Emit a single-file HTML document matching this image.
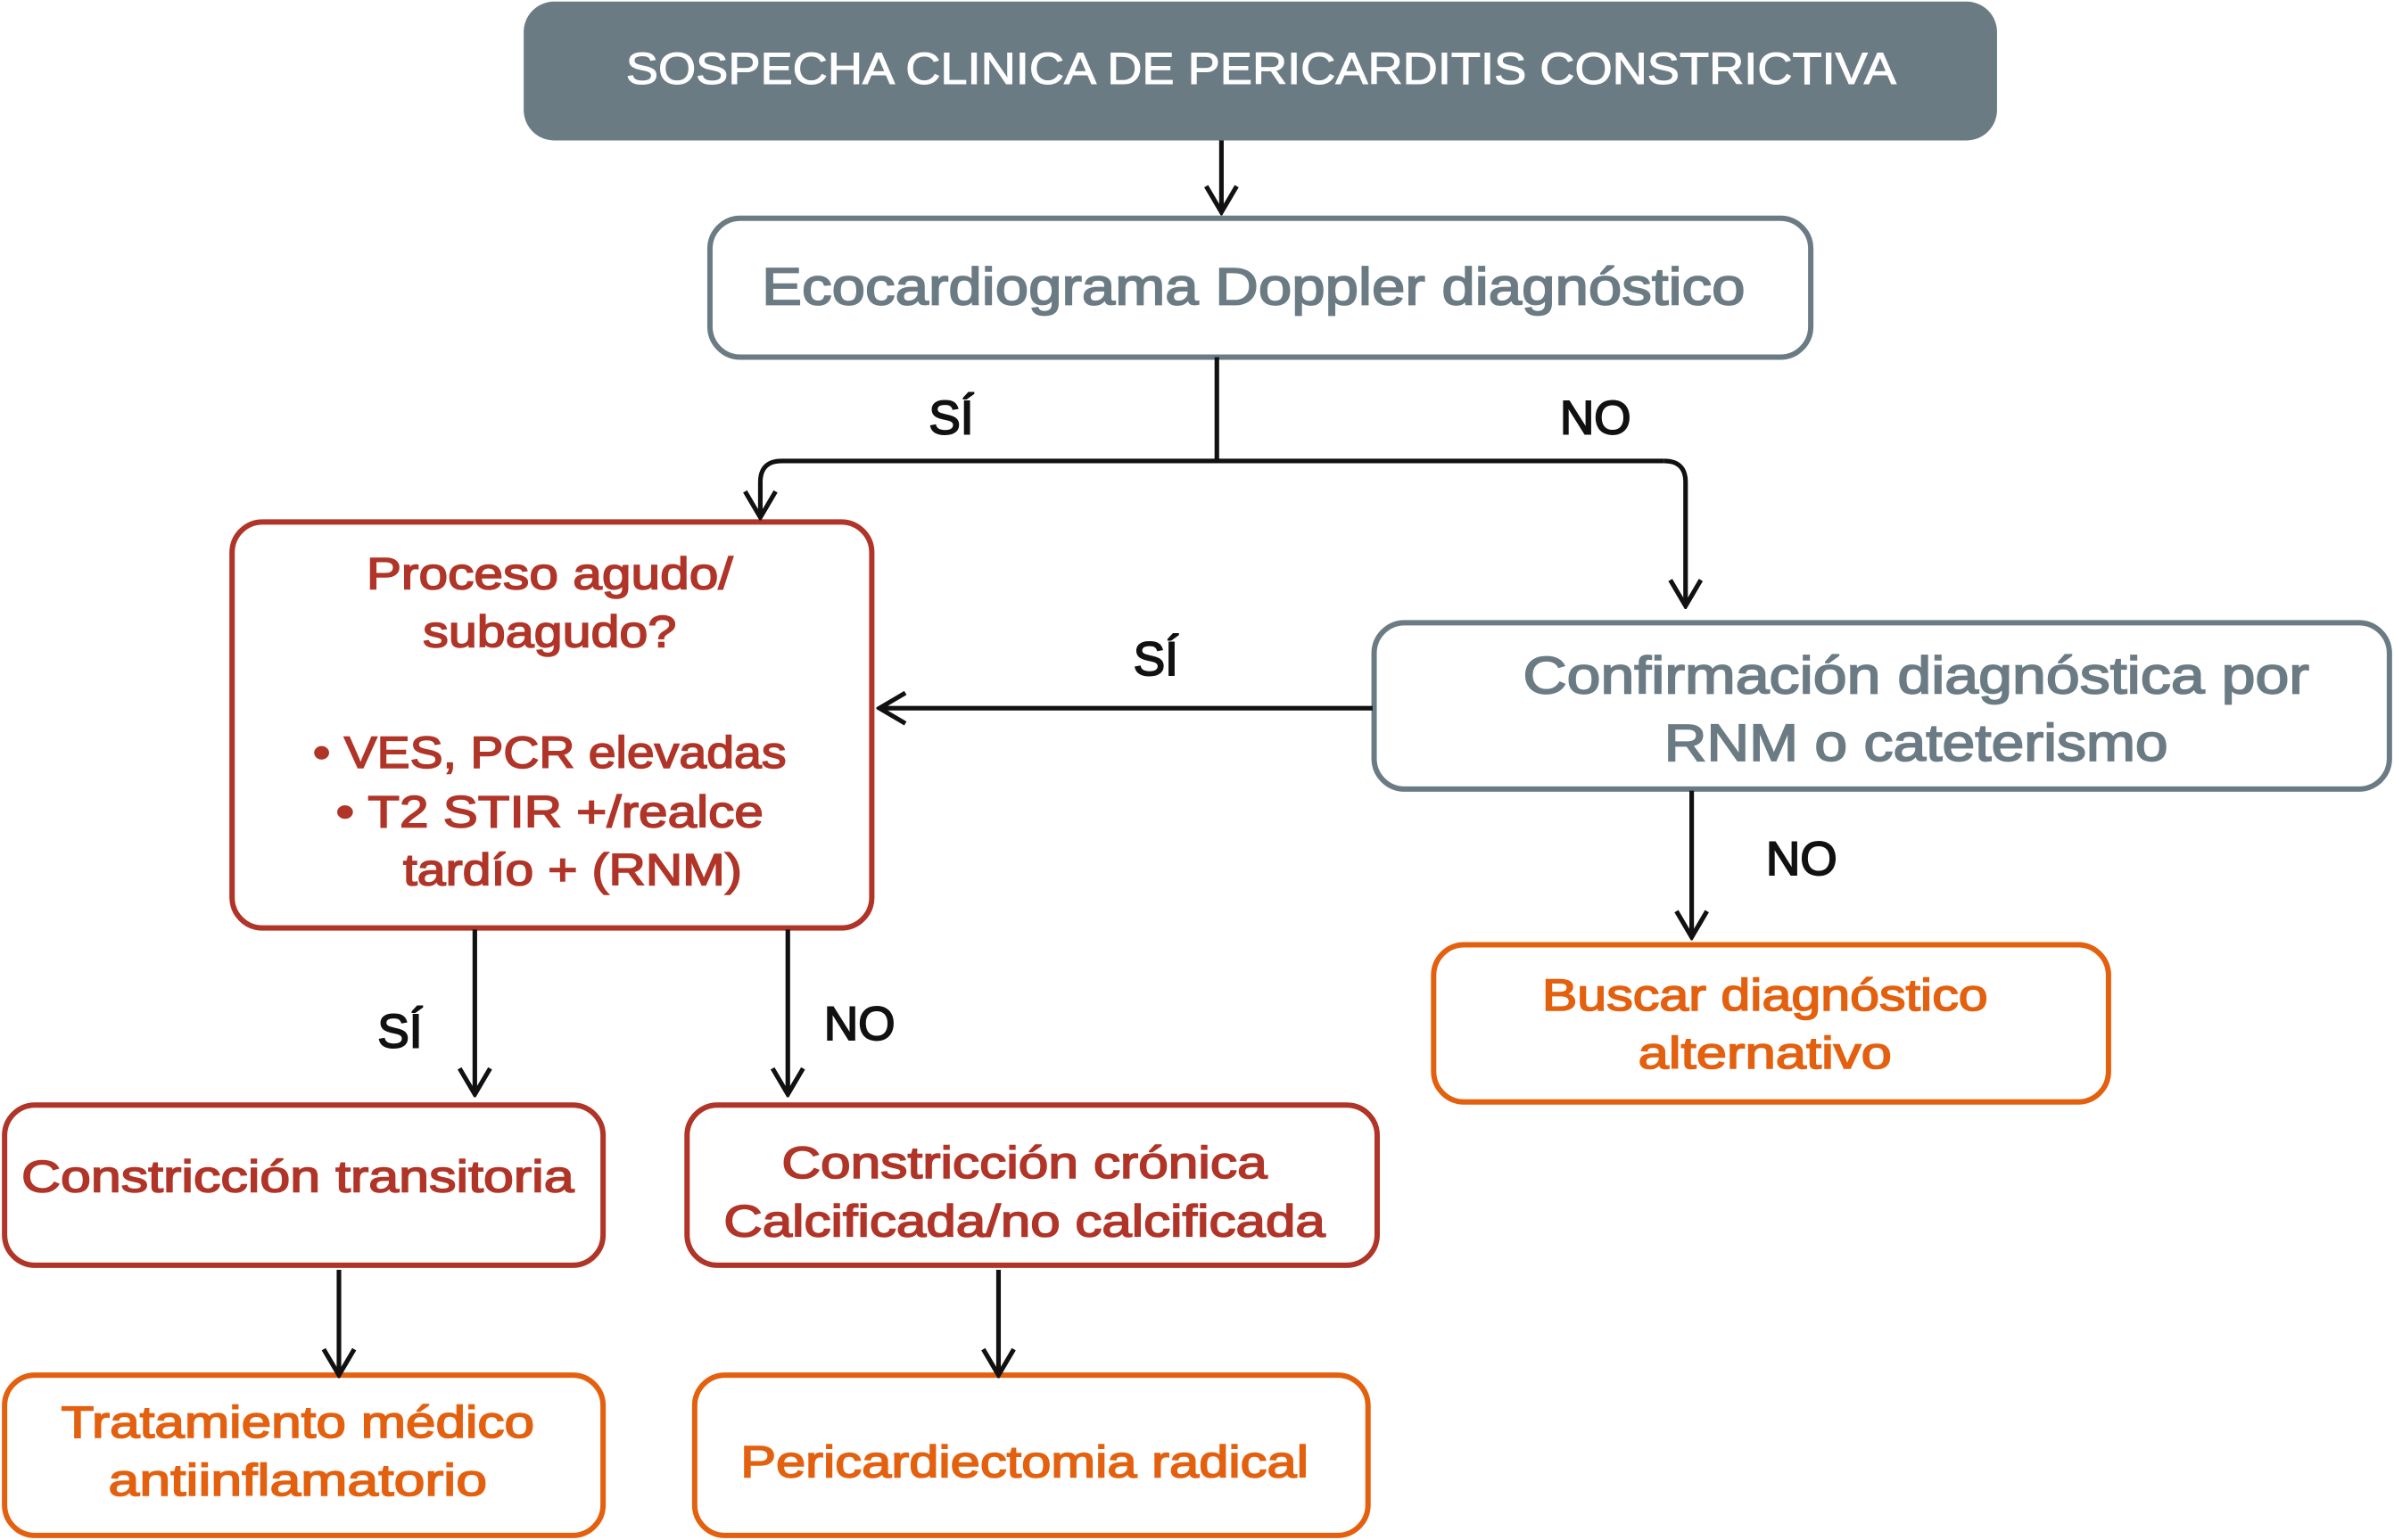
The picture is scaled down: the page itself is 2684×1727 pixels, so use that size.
<!DOCTYPE html>
<html><head><meta charset="utf-8"><style>html,body{margin:0;padding:0;background:#fff}svg{display:block}</style></head>
<body>
<svg width="2684" height="1727" viewBox="0 0 1568 1009" preserveAspectRatio="none" xmlns="http://www.w3.org/2000/svg" font-family="Liberation Sans, sans-serif">
<defs>
<marker id="ah" viewBox="0 0 20 24" refX="18" refY="12" markerWidth="20" markerHeight="24" markerUnits="userSpaceOnUse" orient="auto">
<path d="M1,2 L18,12 L1,22" fill="none" stroke="#111" stroke-width="3"/>
</marker>
</defs>
<g fill="none" stroke-linejoin="round">
<rect x="343" y="1" width="965" height="91" rx="20" fill="#6b7b84"/>
<rect x="465" y="143" width="721" height="91" rx="20" stroke="#6b7b84" stroke-width="3.5"/>
<rect x="152" y="342" width="419" height="266" rx="20" stroke="#b03427" stroke-width="3.5"/>
<rect x="900" y="408" width="665" height="109" rx="20" stroke="#6b7b84" stroke-width="3.5"/>
<rect x="939" y="619" width="442" height="103" rx="20" stroke="#e3600f" stroke-width="3.5"/>
<rect x="3" y="724" width="392" height="105" rx="20" stroke="#b03427" stroke-width="3.5"/>
<rect x="450" y="724" width="452" height="105" rx="20" stroke="#b03427" stroke-width="3.5"/>
<rect x="3" y="901" width="392" height="105" rx="20" stroke="#e3600f" stroke-width="3.5"/>
<rect x="455" y="901" width="441" height="105" rx="20" stroke="#e3600f" stroke-width="3.5"/>
</g>
<g fill="none" stroke="#111" stroke-width="3">
<line x1="800" y1="92" x2="800" y2="139" marker-end="url(#ah)"/>
<line x1="797" y1="234" x2="797" y2="302"/>
<path d="M1090,302 L512,302 Q498,302 498,316 L498,339" marker-end="url(#ah)"/>
<path d="M1090,302 Q1104,302 1104,316 L1104,397" marker-end="url(#ah)"/>
<line x1="899" y1="464" x2="576" y2="464" marker-end="url(#ah)"/>
<line x1="1108" y1="518" x2="1108" y2="614" marker-end="url(#ah)"/>
<line x1="311" y1="609" x2="311" y2="717" marker-end="url(#ah)"/>
<line x1="516" y1="609" x2="516" y2="717" marker-end="url(#ah)"/>
<line x1="222" y1="832" x2="222" y2="901" marker-end="url(#ah)"/>
<line x1="654" y1="832" x2="654" y2="901" marker-end="url(#ah)"/>
</g>
<g text-anchor="middle" dominant-baseline="central">
<text x="826" y="45" font-size="29" fill="#fff" stroke="#fff" stroke-width="0.6" textLength="832" lengthAdjust="spacingAndGlyphs">SOSPECHA CLINICA DE PERICARDITIS CONSTRICTIVA</text>
<text x="821" y="188" font-size="34" fill="#6b7b84" stroke="#6b7b84" stroke-width="1" textLength="644" lengthAdjust="spacingAndGlyphs">Ecocardiograma Doppler diagnóstico</text>
<g fill="#111" font-size="31" stroke="#111" stroke-width="1.1">
<text x="623" y="274">SÍ</text><text x="1045" y="274">NO</text>
<text x="757" y="432">SÍ</text><text x="1180" y="563">NO</text>
<text x="262" y="676">SÍ</text><text x="563" y="671">NO</text>
</g>
<g fill="#b03427" font-size="29" stroke="#b03427" stroke-width="0.9">
<text x="360" y="376" textLength="240" lengthAdjust="spacingAndGlyphs">Proceso agudo/</text>
<text x="360" y="414" textLength="166" lengthAdjust="spacingAndGlyphs">subagudo?</text>
<text x="360" y="493" textLength="310" lengthAdjust="spacingAndGlyphs">• VES, PCR elevadas</text>
<text x="360" y="532" textLength="280" lengthAdjust="spacingAndGlyphs">• T2 STIR +/realce</text>
<text x="375" y="570" textLength="222" lengthAdjust="spacingAndGlyphs">tardío + (RNM)</text>
<text x="195" y="771" textLength="362" lengthAdjust="spacingAndGlyphs">Constricción transitoria</text>
<text x="671" y="762" textLength="318" lengthAdjust="spacingAndGlyphs">Constricción crónica</text>
<text x="671" y="800" textLength="394" lengthAdjust="spacingAndGlyphs">Calcificada/no calcificada</text>
</g>
<g fill="#6b7b84" font-size="34" stroke="#6b7b84" stroke-width="1">
<text x="1255" y="443" textLength="515" lengthAdjust="spacingAndGlyphs">Confirmación diagnóstica por</text>
<text x="1255" y="487" textLength="330" lengthAdjust="spacingAndGlyphs">RNM o cateterismo</text>
</g>
<g fill="#e3600f" font-size="29" stroke="#e3600f" stroke-width="0.9">
<text x="1156" y="652" textLength="292" lengthAdjust="spacingAndGlyphs">Buscar diagnóstico</text>
<text x="1156" y="690" textLength="166" lengthAdjust="spacingAndGlyphs">alternativo</text>
<text x="195" y="932" textLength="310" lengthAdjust="spacingAndGlyphs">Tratamiento médico</text>
<text x="195" y="970" textLength="248" lengthAdjust="spacingAndGlyphs">antiinflamatorio</text>
<text x="671" y="958" textLength="372" lengthAdjust="spacingAndGlyphs">Pericardiectomia radical</text>
</g>
</g>
</svg>
</body></html>
